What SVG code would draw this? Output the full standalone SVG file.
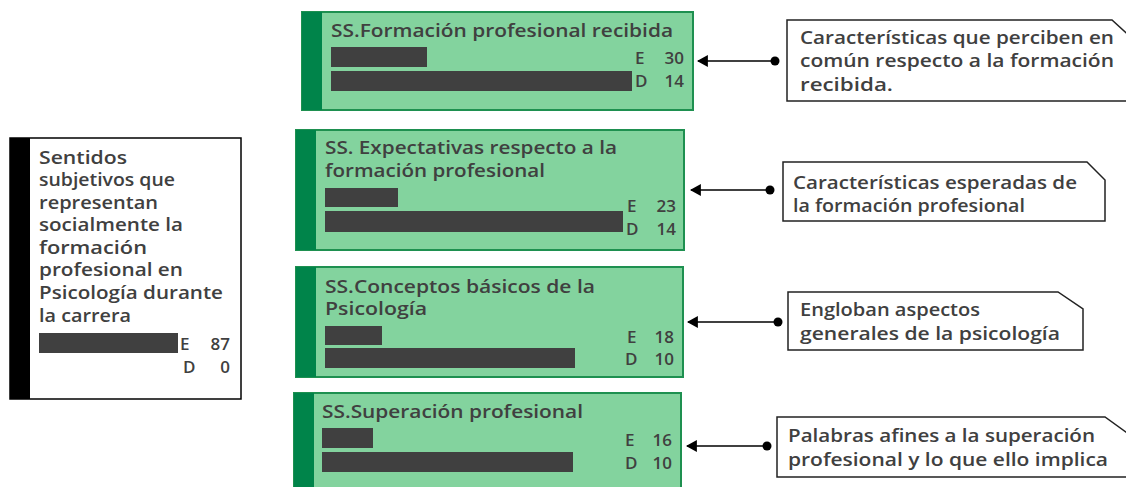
<svg xmlns="http://www.w3.org/2000/svg" width="1126" height="487" viewBox="0 0 1126 487">
<defs>
<style>
.t{font-family:"Open Sans","Noto Sans","Liberation Sans",sans-serif;font-size:17.5px;font-weight:600;fill:#404040;}
.n{font-family:"Open Sans","Noto Sans","Liberation Sans",sans-serif;font-size:17px;font-weight:600;fill:#404040;}
.box{fill:#83D39E;stroke:#1E9050;stroke-width:2;}
.strip{fill:#00844A;}
.bar{fill:#404040;}
.call{fill:#fff;stroke:#222;stroke-width:1.5;}
.conn{stroke:#000;stroke-width:1.5;fill:none;}
</style>
<marker id="ah" viewBox="0 0 10 10" refX="9" refY="5" markerWidth="11" markerHeight="12" markerUnits="userSpaceOnUse" orient="auto" preserveAspectRatio="none">
<path d="M0,0 L10,5 L0,10 Z" fill="#000"/>
</marker>
</defs>
<rect width="1126" height="487" fill="#fff"/>

<g id="root">
<rect x="10" y="138" width="231" height="261" fill="#fff" stroke="#000" stroke-width="1.5"/>
<rect x="10" y="138" width="20" height="261" fill="#000"/>
<text class="t" x="39" y="164" textLength="88" lengthAdjust="spacingAndGlyphs">Sentidos</text>
<text class="t" x="39" y="186" textLength="136" lengthAdjust="spacingAndGlyphs">subjetivos que</text>
<text class="t" x="39" y="209" textLength="119" lengthAdjust="spacingAndGlyphs">representan</text>
<text class="t" x="39" y="231" textLength="144" lengthAdjust="spacingAndGlyphs">socialmente la</text>
<text class="t" x="39" y="254" textLength="108" lengthAdjust="spacingAndGlyphs">formación</text>
<text class="t" x="39" y="276" textLength="144" lengthAdjust="spacingAndGlyphs">profesional en</text>
<text class="t" x="39" y="299" textLength="184" lengthAdjust="spacingAndGlyphs">Psicología durante</text>
<text class="t" x="39" y="322" textLength="92" lengthAdjust="spacingAndGlyphs">la carrera</text>
<rect class="bar" x="39" y="333" width="139" height="20"/>
<text class="n" x="180" y="350">E</text>
<text class="n" x="230" y="350" text-anchor="end">87</text>
<text class="n" x="183" y="373">D</text>
<text class="n" x="230" y="373" text-anchor="end">0</text>
</g>

<g id="n1">
<rect class="box" x="302" y="12" width="391" height="98"/>
<rect class="strip" x="302" y="12" width="20" height="98"/>
<text class="t" x="331" y="37" textLength="342" lengthAdjust="spacingAndGlyphs">SS.Formación profesional recibida</text>
<rect class="bar" x="331" y="47" width="96" height="20"/>
<rect class="bar" x="331" y="71" width="301" height="20"/>
<text class="n" x="635" y="64">E</text>
<text class="n" x="684" y="64" text-anchor="end">30</text>
<text class="n" x="635" y="87">D</text>
<text class="n" x="684" y="87" text-anchor="end">14</text>
</g>

<g id="n2">
<rect class="box" x="296" y="130" width="388" height="120"/>
<rect class="strip" x="296" y="130" width="20" height="120"/>
<text class="t" x="325" y="154" textLength="292" lengthAdjust="spacingAndGlyphs">SS. Expectativas respecto a la</text>
<text class="t" x="325" y="177" textLength="220" lengthAdjust="spacingAndGlyphs">formación profesional</text>
<rect class="bar" x="325" y="188" width="73" height="19"/>
<rect class="bar" x="325" y="211" width="298" height="21"/>
<text class="n" x="627" y="212">E</text>
<text class="n" x="676" y="212" text-anchor="end">23</text>
<text class="n" x="626" y="235">D</text>
<text class="n" x="676" y="235" text-anchor="end">14</text>
</g>

<g id="n3">
<rect class="box" x="296" y="267" width="387" height="110"/>
<rect class="strip" x="296" y="267" width="20" height="110"/>
<text class="t" x="325" y="293" textLength="270" lengthAdjust="spacingAndGlyphs">SS.Conceptos básicos de la</text>
<text class="t" x="325" y="315" textLength="102" lengthAdjust="spacingAndGlyphs">Psicología</text>
<rect class="bar" x="325" y="326" width="57" height="19"/>
<rect class="bar" x="325" y="348" width="250" height="20"/>
<text class="n" x="627" y="343">E</text>
<text class="n" x="674" y="343" text-anchor="end">18</text>
<text class="n" x="625" y="365">D</text>
<text class="n" x="674" y="365" text-anchor="end">10</text>
</g>

<g id="n4">
<rect class="box" x="294" y="393" width="387" height="104"/>
<rect class="strip" x="294" y="393" width="20" height="104"/>
<text class="t" x="322" y="418" textLength="261" lengthAdjust="spacingAndGlyphs">SS.Superación profesional</text>
<rect class="bar" x="322" y="428" width="51" height="20"/>
<rect class="bar" x="322" y="452" width="251" height="20"/>
<text class="n" x="625" y="446">E</text>
<text class="n" x="672" y="446" text-anchor="end">16</text>
<text class="n" x="625" y="469">D</text>
<text class="n" x="672" y="469" text-anchor="end">10</text>
</g>

<g id="c1">
<path class="call" d="M787,20 L1112,20 L1136,42 L1136,101 L787,101 Z"/>
<text class="t" x="800" y="44" textLength="314" lengthAdjust="spacingAndGlyphs">Características que perciben en</text>
<text class="t" x="800" y="67" textLength="314" lengthAdjust="spacingAndGlyphs">común respecto a la formación</text>
<text class="t" x="800" y="91" textLength="93" lengthAdjust="spacingAndGlyphs">recibida.</text>
</g>

<g id="c2">
<path class="call" d="M783,162 L1087,162 L1105,180 L1105,221 L783,221 Z"/>
<text class="t" x="793" y="189" textLength="284" lengthAdjust="spacingAndGlyphs">Características esperadas de</text>
<text class="t" x="793" y="212" textLength="232" lengthAdjust="spacingAndGlyphs">la formación profesional</text>
</g>

<g id="c3">
<path class="call" d="M788,292 L1058,292 L1083,309 L1083,350 L788,350 Z"/>
<text class="t" x="800" y="316" textLength="180" lengthAdjust="spacingAndGlyphs">Engloban aspectos</text>
<text class="t" x="800" y="340" textLength="260" lengthAdjust="spacingAndGlyphs">generales de la psicología</text>
</g>

<g id="c4">
<path class="call" d="M777,417 L1105,417 L1130,435 L1130,477 L777,477 Z"/>
<text class="t" x="788" y="442" textLength="307" lengthAdjust="spacingAndGlyphs">Palabras afines a la superación</text>
<text class="t" x="788" y="466" textLength="320" lengthAdjust="spacingAndGlyphs">profesional y lo que ello implica</text>
</g>

<g id="connectors">
<path class="conn" d="M775,61 L698,61" marker-end="url(#ah)"/>
<circle cx="775" cy="61" r="4.5" fill="#000"/>
<path class="conn" d="M770,190 L691,190" marker-end="url(#ah)"/>
<circle cx="770" cy="190" r="4.5" fill="#000"/>
<path class="conn" d="M778,322 L688,322" marker-end="url(#ah)"/>
<circle cx="778" cy="322" r="4.5" fill="#000"/>
<path class="conn" d="M767,446 L687,446" marker-end="url(#ah)"/>
<circle cx="767" cy="446" r="4.5" fill="#000"/>
</g>
</svg>
